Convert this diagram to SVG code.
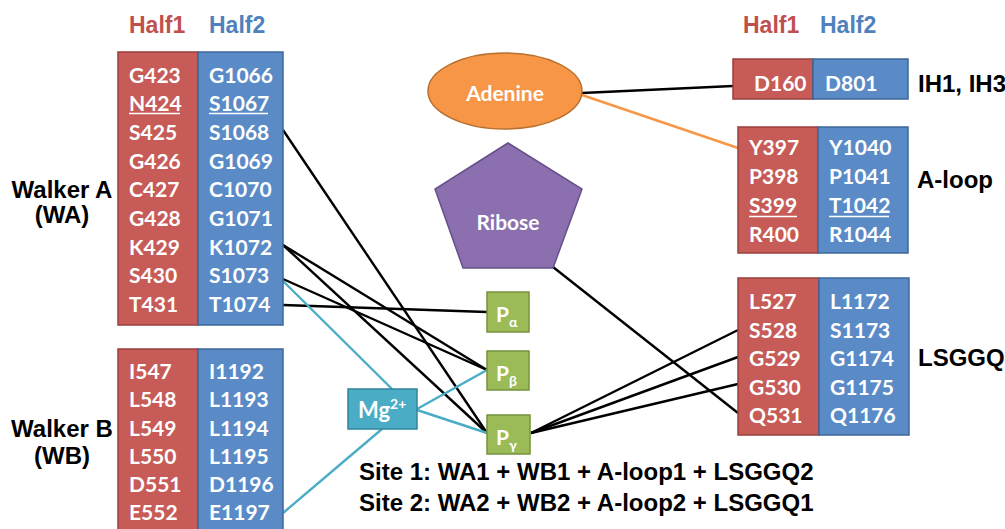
<svg xmlns="http://www.w3.org/2000/svg" width="1005" height="529" viewBox="0 0 1005 529">
  <style>
    .lbl { font-family: "Liberation Sans", Arial, sans-serif; font-weight: bold; font-size: 24px; fill: #000; }
    .hdr { font-family: "Liberation Sans", Arial, sans-serif; font-weight: bold; font-size: 23px; }
    .h1 { fill: #c0504d; }
    .h2 { fill: #4f81bd; }
    .res { font-family: Lato, "Open Sans", sans-serif; font-weight: bold; font-size: 21px; fill: #fff; }
    .red { fill: #c65b57; stroke: #9a3f3c; stroke-width: 1.5; }
    .blue { fill: #5a8bc7; stroke: #3e679b; stroke-width: 1.5; }
    .ul { stroke: #fff; stroke-width: 1.6; }
    .pbox { fill: #9bbb59; stroke: #76923c; stroke-width: 1.5; }
    .ptxt { font-family: Lato, "Open Sans", sans-serif; font-weight: bold; fill: #fff; }
    .wire { stroke: #000; stroke-width: 2.4; fill: none; }
    .mgw { stroke: #4bacc6; stroke-width: 2.4; fill: none; }
    .adw { stroke: #f79646; stroke-width: 2.4; fill: none; }
  </style>

  <!-- column headers -->
  <g id="headers">
    <text class="hdr h1" x="129" y="33">Half1</text>
    <text class="hdr h2" x="209" y="33">Half2</text>
    <text class="hdr h1" x="743" y="33">Half1</text>
    <text class="hdr h2" x="820" y="33">Half2</text>
  </g>

  <!-- connectors -->
  <g id="connectors">
    <line class="wire" x1="582" y1="93" x2="733" y2="86"/>
    <line class="adw" x1="582" y1="95" x2="738" y2="148"/>
    <line class="wire" x1="283" y1="130" x2="487" y2="433"/>
    <line class="wire" x1="283" y1="245" x2="487" y2="370"/>
    <line class="wire" x1="283" y1="245" x2="487" y2="433"/>
    <line class="wire" x1="283" y1="279" x2="487" y2="370"/>
    <line class="wire" x1="283" y1="305" x2="487" y2="312"/>
    <line class="mgw" x1="283" y1="281" x2="392" y2="389"/>
    <line class="mgw" x1="283" y1="513" x2="382" y2="429"/>
    <line class="mgw" x1="417" y1="409" x2="487" y2="370"/>
    <line class="mgw" x1="417" y1="410" x2="487" y2="433"/>
    <line class="wire" x1="531" y1="433" x2="738" y2="330"/>
    <line class="wire" x1="531" y1="433" x2="738" y2="357"/>
    <line class="wire" x1="531" y1="433" x2="738" y2="384"/>
    <line class="wire" x1="553" y1="267" x2="738" y2="413"/>
  </g>

  <!-- Walker A -->
  <g id="walker-a">
    <rect class="red" x="118" y="52" width="80" height="273"/>
    <rect class="blue" x="198" y="52" width="85" height="273"/>
    <text class="lbl" x="62" y="198" text-anchor="middle">Walker A</text>
    <text class="lbl" x="62" y="223" text-anchor="middle">(WA)</text>
    <g class="res">
      <text x="129" y="82.5">G423</text><text x="209" y="82.5">G1066</text>
      <text x="129" y="111">N424</text><text x="209" y="111">S1067</text>
      <text x="129" y="140">S425</text><text x="209" y="140">S1068</text>
      <text x="129" y="168.5">G426</text><text x="209" y="168.5">G1069</text>
      <text x="129" y="197">C427</text><text x="209" y="197">C1070</text>
      <text x="129" y="226">G428</text><text x="209" y="226">G1071</text>
      <text x="129" y="254.5">K429</text><text x="209" y="254.5">K1072</text>
      <text x="129" y="283">S430</text><text x="209" y="283">S1073</text>
      <text x="129" y="312">T431</text><text x="209" y="312">T1074</text>
    </g>
    <line class="ul" x1="129" y1="113.5" x2="180" y2="113.5"/>
    <line class="ul" x1="209" y1="113.5" x2="268" y2="113.5"/>
  </g>

  <!-- Walker B -->
  <g id="walker-b">
    <rect class="red" x="118" y="349" width="80" height="190"/>
    <rect class="blue" x="198" y="349" width="85" height="190"/>
    <text class="lbl" x="62" y="437" text-anchor="middle">Walker B</text>
    <text class="lbl" x="62" y="464" text-anchor="middle">(WB)</text>
    <g class="res">
      <text x="129" y="379">I547</text><text x="209" y="379">I1192</text>
      <text x="129" y="407">L548</text><text x="209" y="407">L1193</text>
      <text x="129" y="435.5">L549</text><text x="209" y="435.5">L1194</text>
      <text x="129" y="464">L550</text><text x="209" y="464">L1195</text>
      <text x="129" y="492">D551</text><text x="209" y="492">D1196</text>
      <text x="129" y="520">E552</text><text x="209" y="520">E1197</text>
    </g>
  </g>

  <!-- Adenine -->
  <g id="adenine">
    <ellipse cx="505" cy="91" rx="77" ry="38" fill="#f79646" stroke="#b9702f" stroke-width="1.5"/>
    <text class="ptxt" x="505" y="101" font-size="21" text-anchor="middle">Adenine</text>
  </g>

  <!-- Ribose -->
  <g id="ribose">
    <polygon points="508,143 582,189 553,268 463,268 435,189" fill="#8b6fae" stroke="#66508a" stroke-width="1.5"/>
    <text class="ptxt" x="508" y="230" font-size="21" text-anchor="middle">Ribose</text>
  </g>

  <!-- phosphates -->
  <g id="p-alpha">
    <rect class="pbox" x="487" y="292" width="42" height="40"/>
    <text class="ptxt" x="496" y="322" font-size="21">P<tspan font-size="14" dy="5">α</tspan></text>
  </g>
  <g id="p-beta">
    <rect class="pbox" x="487" y="351" width="42" height="39"/>
    <text class="ptxt" x="496" y="381" font-size="21">P<tspan font-size="14" dy="5">β</tspan></text>
  </g>
  <g id="p-gamma">
    <rect class="pbox" x="487" y="415" width="43" height="39"/>
    <text class="ptxt" x="496" y="445" font-size="21">P<tspan font-size="14" dy="5">γ</tspan></text>
  </g>

  <!-- magnesium -->
  <g id="mg">
    <rect x="348" y="389" width="69" height="40" fill="#4bacc6" stroke="#31849b" stroke-width="1.5"/>
    <text class="ptxt" x="358" y="418" font-size="22">Mg<tspan font-size="14" dy="-9">2+</tspan></text>
  </g>

  <!-- IH1, IH3 -->
  <g id="ih">
    <rect class="red" x="733" y="59" width="80" height="40"/>
    <rect class="blue" x="813" y="59" width="95" height="40"/>
    <g class="res">
      <text x="754" y="91">D160</text>
      <text x="825" y="91">D801</text>
    </g>
    <text class="lbl" x="918" y="92">IH1, IH3</text>
  </g>

  <!-- A-loop -->
  <g id="a-loop">
    <rect class="red" x="738" y="127" width="80" height="126"/>
    <rect class="blue" x="818" y="127" width="90" height="126"/>
    <g class="res">
      <text x="749" y="155">Y397</text><text x="829" y="155">Y1040</text>
      <text x="749" y="184">P398</text><text x="829" y="184">P1041</text>
      <text x="749" y="213">S399</text><text x="829" y="213">T1042</text>
      <text x="749" y="242">R400</text><text x="829" y="242">R1044</text>
    </g>
    <line class="ul" x1="749" y1="216.5" x2="797" y2="216.5"/>
    <line class="ul" x1="829" y1="216.5" x2="889" y2="216.5"/>
    <text class="lbl" x="917" y="188">A-loop</text>
  </g>

  <!-- LSGGQ -->
  <g id="lsggq">
    <rect class="red" x="738" y="278" width="81" height="157"/>
    <rect class="blue" x="819" y="278" width="90" height="157"/>
    <g class="res">
      <text x="749" y="309">L527</text><text x="830" y="309">L1172</text>
      <text x="749" y="337.5">S528</text><text x="830" y="337.5">S1173</text>
      <text x="749" y="366">G529</text><text x="830" y="366">G1174</text>
      <text x="749" y="394.5">G530</text><text x="830" y="394.5">G1175</text>
      <text x="749" y="423">Q531</text><text x="830" y="423">Q1176</text>
    </g>
    <text class="lbl" x="918" y="366">LSGGQ</text>
  </g>

  <!-- site composition -->
  <g id="sites">
    <text class="lbl" x="359" y="480">Site 1: WA1 + WB1 + A-loop1 + LSGGQ2</text>
    <text class="lbl" x="359" y="511">Site 2: WA2 + WB2 + A-loop2 + LSGGQ1</text>
  </g>
</svg>
